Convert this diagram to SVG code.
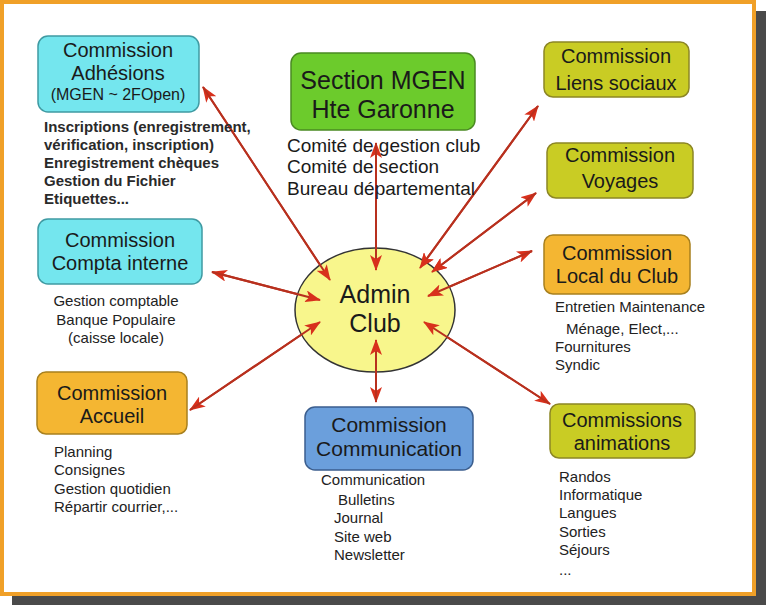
<svg xmlns="http://www.w3.org/2000/svg" width="768" height="607" viewBox="0 0 768 607">
<defs>
<marker id="ah" viewBox="0 0 16 12" refX="15" refY="6" markerWidth="16" markerHeight="12" markerUnits="userSpaceOnUse" orient="auto-start-reverse">
<path d="M0,0 L16,6 L0,12 L4,6 z" fill="#D8301C"/>
</marker>
</defs>
<style>
text{font-family:"Liberation Sans",Arial,sans-serif;fill:#1a1a1a}
.t{font-size:20px;text-anchor:middle}
.big{font-size:25px;text-anchor:middle}
.l{font-size:15px;fill:#222}
.lb{font-size:15px;font-weight:bold;fill:#2a2a2a}
.m{font-size:19px}
.cyan{fill:#74E6EE;stroke:#3F9AA2;stroke-width:1.5}
.green{fill:#6CCB2C;stroke:#4A8A22;stroke-width:1.5}
.olive{fill:#C9CC24;stroke:#8C8624;stroke-width:1.5}
.orange{fill:#F4B632;stroke:#A8801E;stroke-width:1.5}
.blue{fill:#6B9FDC;stroke:#3B5E8E;stroke-width:1.5}
.c{stroke:#B8301E;stroke-width:2;fill:none;marker-start:url(#ah);marker-end:url(#ah)}
</style>
<rect x="12" y="11" width="754" height="594" fill="#4A4A4A"/>
<rect x="2" y="2" width="752" height="592" fill="#FFFFFF" stroke="#F0A028" stroke-width="4"/>

<g id="connectors">
<line class="c" x1="203" y1="87" x2="330" y2="280"/>
<line class="c" x1="376" y1="143" x2="376" y2="270"/>
<line class="c" x1="538" y1="106" x2="420" y2="268"/>
<line class="c" x1="536" y1="193" x2="432" y2="272"/>
<line class="c" x1="532" y1="251" x2="428" y2="296"/>
<line class="c" x1="212" y1="272" x2="320" y2="300"/>
<line class="c" x1="190" y1="410" x2="320" y2="322"/>
<line class="c" x1="376" y1="340" x2="376" y2="402"/>
<line class="c" x1="550" y1="404" x2="424" y2="322"/>
</g>

<g id="admin">
<ellipse cx="375" cy="310" rx="80" ry="62" fill="#F8F68C" stroke="#333" stroke-width="1.5"/>
<text class="big" x="375" y="303">Admin</text>
<text class="big" x="375" y="332">Club</text>
</g>
<!-- redraw inner arrowheads over ellipse -->
<g id="connectors-over">
<line class="c" x1="203" y1="87" x2="330" y2="280" style="marker-start:none"/>
<line class="c" x1="376" y1="143" x2="376" y2="270" style="marker-start:none"/>
<line class="c" x1="538" y1="106" x2="420" y2="268" style="marker-start:none"/>
<line class="c" x1="536" y1="193" x2="432" y2="272" style="marker-start:none"/>
<line class="c" x1="532" y1="251" x2="428" y2="296" style="marker-start:none"/>
<line class="c" x1="212" y1="272" x2="320" y2="300" style="marker-start:none"/>
<line class="c" x1="190" y1="410" x2="320" y2="322" style="marker-start:none"/>
<line class="c" x1="376" y1="402" x2="376" y2="340" style="marker-start:none"/>
<line class="c" x1="550" y1="404" x2="424" y2="322" style="marker-start:none"/>
</g>

<g id="adhesions">
<rect class="cyan" x="38" y="36" width="161" height="76" rx="10"/>
<text class="t" x="118" y="57">Commission</text>
<text class="t" x="118" y="80">Adhésions</text>
<text x="118" y="100" style="font-size:16px;text-anchor:middle">(MGEN ~ 2FOpen)</text>
<text class="lb" x="44" y="132">Inscriptions (enregistrement,</text>
<text class="lb" x="44" y="150">vérification, inscription)</text>
<text class="lb" x="44" y="168">Enregistrement chèques</text>
<text class="lb" x="44" y="186">Gestion du Fichier</text>
<text class="lb" x="44" y="204">Etiquettes...</text>
</g>

<g id="mgen">
<rect class="green" x="291" y="53" width="184" height="77" rx="10"/>
<text class="big" x="383" y="89">Section MGEN</text>
<text class="big" x="383" y="118">Hte Garonne</text>
<text class="m" x="287" y="152">Comité de gestion club</text>
<text class="m" x="287" y="173">Comité de section</text>
<text class="m" x="287" y="195">Bureau départemental</text>
</g>

<g id="liens">
<rect class="olive" x="544" y="42" width="145" height="55" rx="9"/>
<text class="t" x="616" y="63">Commission</text>
<text class="t" x="616" y="90">Liens sociaux</text>
</g>

<g id="voyages">
<rect class="olive" x="547" y="143" width="146" height="55" rx="9"/>
<text class="t" x="620" y="162">Commission</text>
<text class="t" x="620" y="188">Voyages</text>
</g>

<g id="compta">
<rect class="cyan" x="38" y="219" width="164" height="65" rx="10"/>
<text class="t" x="120" y="247">Commission</text>
<text class="t" x="120" y="270">Compta interne</text>
<text class="l" x="116" y="306" text-anchor="middle">Gestion comptable</text>
<text class="l" x="116" y="325" text-anchor="middle">Banque Populaire</text>
<text class="l" x="116" y="343" text-anchor="middle">(caisse locale)</text>
</g>

<g id="local">
<rect class="orange" x="544" y="235" width="146" height="59" rx="9"/>
<text class="t" x="617" y="260">Commission</text>
<text class="t" x="617" y="283">Local du Club</text>
<text class="l" x="555" y="312">Entretien Maintenance</text>
<text class="l" x="566" y="334">Ménage, Elect,...</text>
<text class="l" x="555" y="352">Fournitures</text>
<text class="l" x="555" y="370">Syndic</text>
</g>

<g id="accueil">
<rect class="orange" x="37" y="372" width="150" height="62" rx="9"/>
<text class="t" x="112" y="400">Commission</text>
<text class="t" x="112" y="423">Accueil</text>
<text class="l" x="54" y="457">Planning</text>
<text class="l" x="54" y="475">Consignes</text>
<text class="l" x="54" y="494">Gestion quotidien</text>
<text class="l" x="54" y="512">Répartir courrier,...</text>
</g>

<g id="communication">
<rect class="blue" x="305" y="407" width="168" height="63" rx="10"/>
<text class="t" x="389" y="432" style="font-size:21px">Commission</text>
<text class="t" x="389" y="456" style="font-size:21px">Communication</text>
<text class="l" x="321" y="485">Communication</text>
<text class="l" x="338" y="505">Bulletins</text>
<text class="l" x="334" y="523">Journal</text>
<text class="l" x="334" y="542">Site web</text>
<text class="l" x="334" y="560">Newsletter</text>
</g>

<g id="animations">
<rect class="olive" x="550" y="404" width="145" height="54" rx="9"/>
<text class="t" x="622" y="427">Commissions</text>
<text class="t" x="622" y="450">animations</text>
<text class="l" x="559" y="482">Randos</text>
<text class="l" x="559" y="500">Informatique</text>
<text class="l" x="559" y="518">Langues</text>
<text class="l" x="559" y="537">Sorties</text>
<text class="l" x="559" y="555">Séjours</text>
<text class="l" x="559" y="575">...</text>
</g>
</svg>
